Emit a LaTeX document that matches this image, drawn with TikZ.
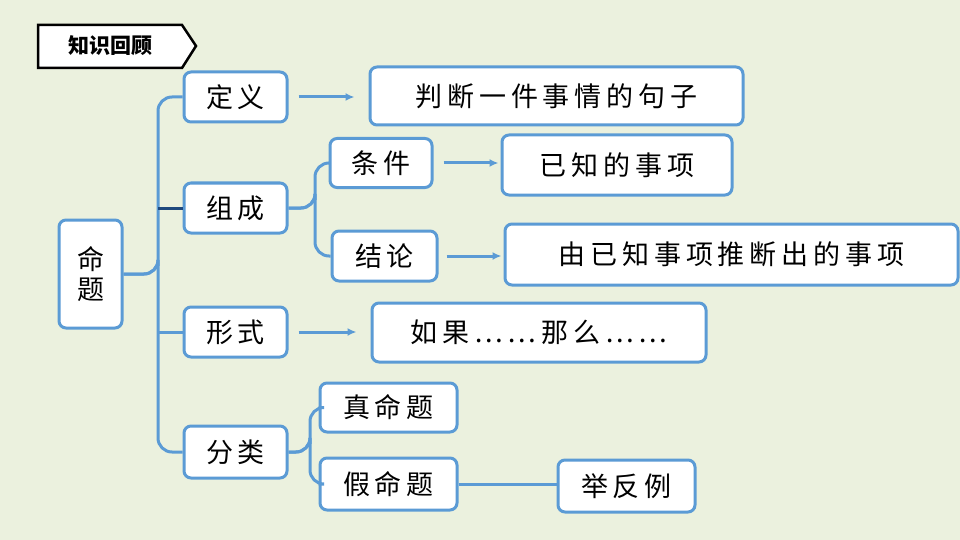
\documentclass[tikz,border=0pt]{standalone}
\usepackage{fontspec}
\newfontfamily\cjk[LetterSpace=18]{Noto Sans CJK SC}
\newfontfamily\cjktag{Noto Sans CJK SC}
\usetikzlibrary{positioning}
\definecolor{bgcol}{RGB}{235,241,222}
\definecolor{boxline}{RGB}{91,155,213}
\definecolor{darkline}{RGB}{31,73,125}
\tikzset{
  box/.style={draw=boxline, line width=3pt, fill=white, rounded corners=7pt,
    inner sep=0pt, font=\cjk\fontsize{27}{32}\selectfont},
  brace/.style={draw=boxline, line width=3pt, rounded corners=14pt},
  link/.style={draw=boxline, line width=3pt},
  arr/.style={link, -{Latex[length=9pt,width=8pt]}}
}
\usetikzlibrary{arrows.meta}
\begin{document}
\begin{tikzpicture}[x=1pt, y=-1pt]
  % ---- background ----
  \fill[bgcol] (0,0) rectangle (960,540);
  \useasboundingbox (0,0) rectangle (960,540);

  % ---- tag ----
  \draw[line width=2.5pt, fill=white] (38,25) -- (182,25) -- (196,46) -- (182,68) -- (38,68) -- cycle;
  \node[font=\cjktag\bfseries\fontsize{21}{24}\selectfont] (tag) at (110,46) {知识回顾};

  % ---- boxes ----
  \node[box, minimum width=63pt, minimum height=108pt, align=center] (mingti) at (90.5,274) {命\\[-2pt]题};
  \node[box, minimum width=103pt, minimum height=50pt] (dingyi) at (235.5,97) {定\,义};
  \node[box, minimum width=103pt, minimum height=50pt] (zucheng) at (235.5,208) {组成};
  \node[box, minimum width=103pt, minimum height=50pt] (xingshi) at (235.5,332) {形\,式};
  \node[box, minimum width=103pt, minimum height=52pt] (fenlei) at (235.5,452) {分\,类};

  \node[box, minimum width=373pt, minimum height=58pt] (panduan) at (556.5,96) {判断一件事情的句子};
  \node[box, minimum width=102pt, minimum height=49pt] (tiaojian) at (381,163) {条件};
  \node[box, minimum width=105pt, minimum height=50pt] (jielun) at (384.5,256) {结论};
  \node[box, minimum width=230pt, minimum height=60pt] (yizhi) at (617,165) {已知的事项};
  \node[box, minimum width=453pt, minimum height=61pt] (youyizhi) at (731.5,254.5) {由已知事项推断出的事项};
  \node[box, minimum width=334pt, minimum height=59pt] (ruguo) at (539,332.5) {如果……那么……};
  \node[box, minimum width=137pt, minimum height=49pt] (zhen) at (388.5,407.5) {真命题};
  \node[box, minimum width=137pt, minimum height=52pt] (jia) at (388.5,484) {假命题};
  \node[box, minimum width=137pt, minimum height=52pt] (fanli) at (626.5,486) {举反例};

  % ---- main brace ----
  \coordinate (j1) at (158,274);
  \draw[brace] (dingyi.west) -| (j1) |- (mingti.east);
  \draw[brace] (fenlei.west) -| (j1) |- (mingti.east);
  \draw[draw=darkline, line width=3pt] (158,208) -- (zucheng.west);
  \draw[link] (158,332) -- (xingshi.west);

  % ---- sub braces ----
  \coordinate (j2) at (315,208);
  \draw[brace] (tiaojian.west) -| (j2) |- (zucheng.east);
  \draw[brace] (jielun.west) -| (j2) |- (zucheng.east);
  \coordinate (j3) at (310,452);
  \draw[brace] (zhen.west) -| (j3) |- (fenlei.east);
  \draw[brace] (jia.west) -| (j3) |- (fenlei.east);

  % ---- arrows ----
  \draw[arr] ([xshift=10pt]dingyi.east) -- ([xshift=-14pt]panduan.west |- dingyi.east);
  \draw[arr] ([xshift=10pt]tiaojian.east) -- ([xshift=-2pt]yizhi.west |- tiaojian.east);
  \draw[arr] ([xshift=8pt]jielun.east) -- ([xshift=-2pt]youyizhi.west |- jielun.east);
  \draw[arr] ([xshift=10pt]xingshi.east) -- ([xshift=-14pt]ruguo.west |- xingshi.east);
  \draw[link] (jia.east) -- (fanli.west |- jia.east);
\end{tikzpicture}
\end{document}
